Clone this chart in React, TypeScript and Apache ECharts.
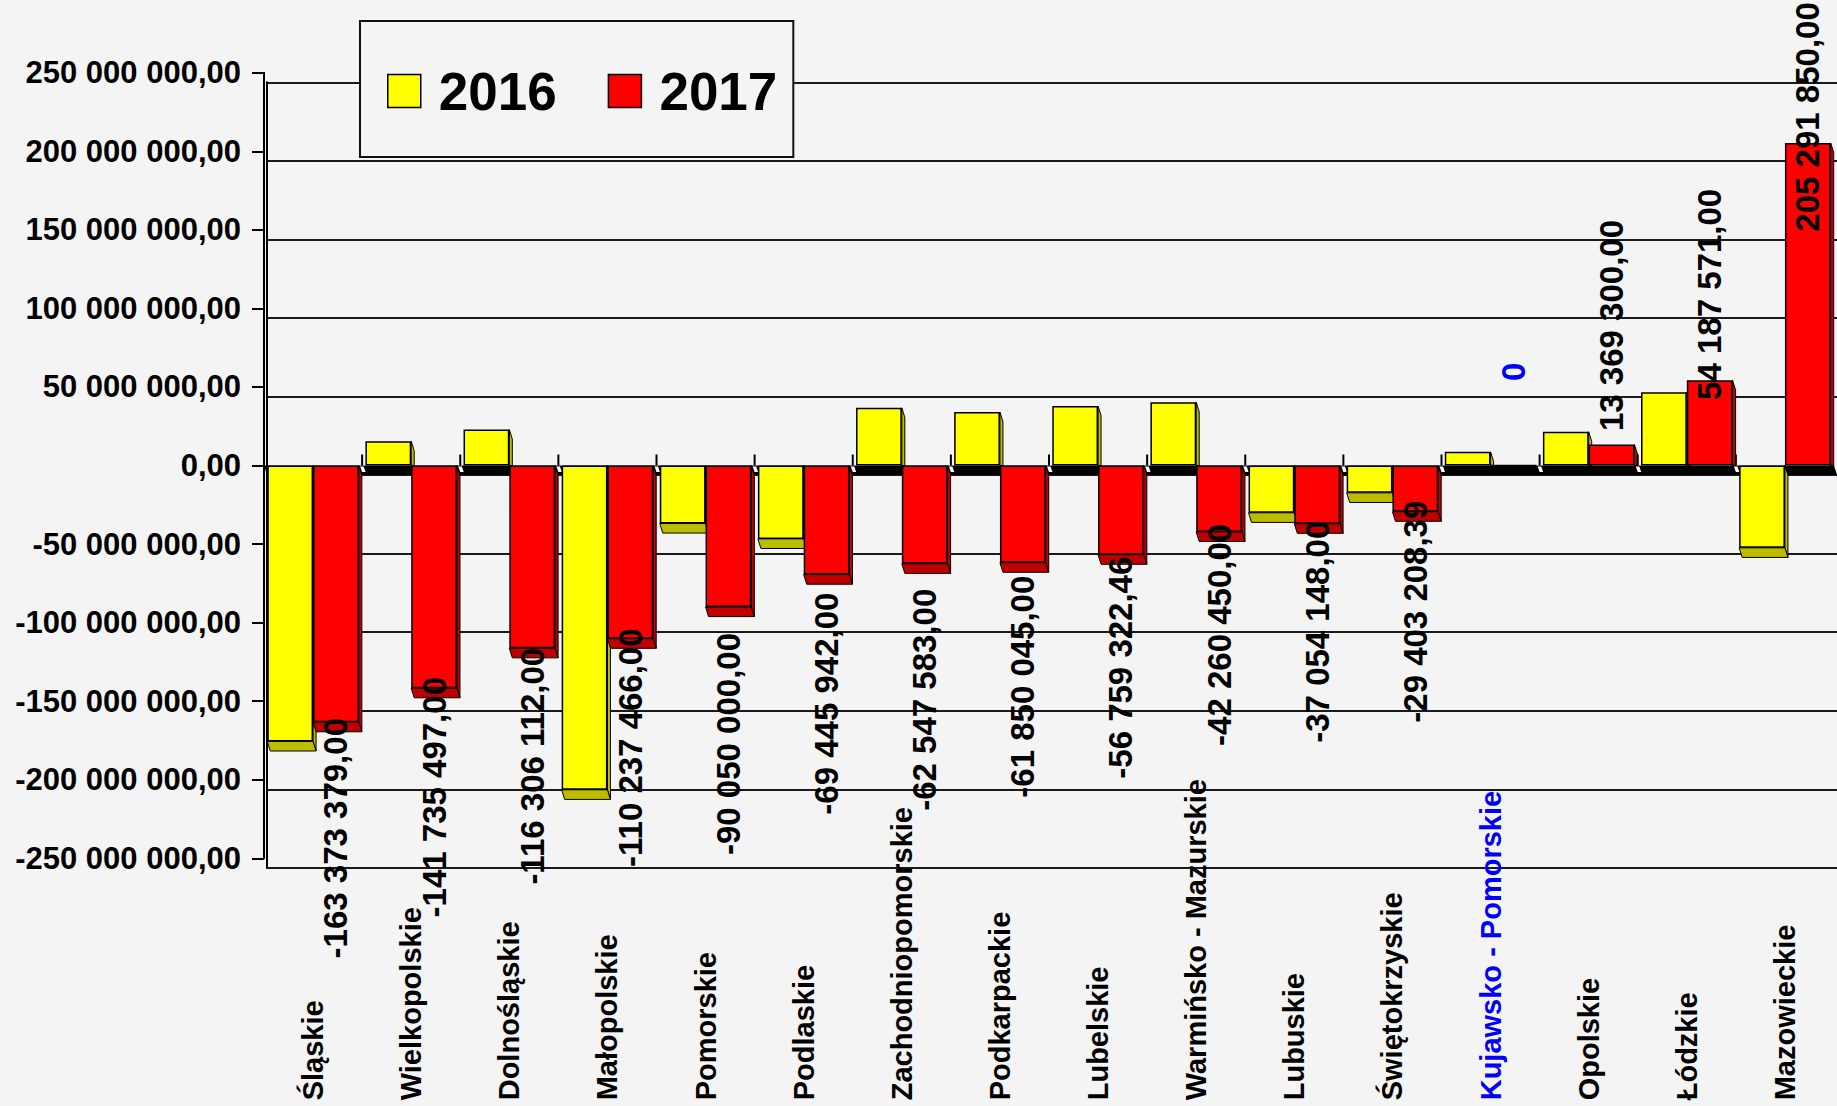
import React, { useEffect, useRef } from 'react';
import * as echarts from 'echarts';

// ---------- data ----------
const categories: string[] = [
  'Śląskie',
  'Wielkopolskie',
  'Dolnośląskie',
  'Małopolskie',
  'Pomorskie',
  'Podlaskie',
  'Zachodniopomorskie',
  'Podkarpackie',
  'Lubelskie',
  'Warmińsko - Mazurskie',
  'Lubuskie',
  'Świętokrzyskie',
  'Kujawsko - Pomorskie',
  'Opolskie',
  'Łódzkie',
  'Mazowieckie',
];

const values2016: number[] = [
  -175600000, 15500000, 22900000, -206400000, -36900000, -46700000, 36700000, 34000000,
  37800000, 40300000, -30100000, -17400000, 8700000, 21500000, 46700000, -52400000,
];

const values2017: number[] = [
  -163373379, -141735497, -116306112, -110237466, -90050000, -69445942, -62547583, -61850045,
  -56759322.46, -42260450, -37054148, -29403208.39, 0, 13369300, 54187571, 205291850,
];

const seriesNames: string[] = ['2016', '2017'];
const yMin = -250000000;
const yMax = 250000000;
const yStep = 50000000;
const highlightedCategory = 'Kujawsko - Pomorskie';

// label placement style (distance of the rotated label centre from the bar end, px)
const labelDistance: number[] = [116, 109, 118, 109, 137, 129, 136, 124, 113, 103, 108, 100, 93, 119, 86, 26];

// ---------- helpers ----------
function fmtNumber(v: number): string {
  const neg = v < 0;
  const fixed = Math.abs(v).toFixed(2);
  const [ip, dp] = fixed.split('.');
  const grouped = ip.replace(/\B(?=(\d{3})+(?!\d))/g, ' ');
  return (neg ? '-' : '') + grouped + ',' + dp;
}
function fmtLabel(v: number): string {
  return v === 0 ? '0' : fmtNumber(v);
}

const FONT = "'Liberation Sans', Arial, Helvetica, sans-serif";
const COLORS = ['#ffff00', '#ff0000'];
const DARK = ['#bdbd00', '#c00000'];
const DX = 3;
const DY = 9.6;
const CAT_GAP = 0.067;

export default function App() {
  const ref = useRef<HTMLDivElement>(null);

  useEffect(() => {
    if (!ref.current) return;
    const chart = echarts.init(ref.current, undefined, { renderer: 'svg' });

    const redData = values2017.map((v, i) => {
      const label: any = {
        position: v >= 0 ? 'top' : 'bottom',
        distance: labelDistance[i],
      };
      if (v === 0) {
        label.color = '#0000ff';
      }
      return { value: v, label };
    });

    const deco = categories.map((_, i) => [i, values2016[i], values2017[i]]);

    const option: any = {
      animation: false,
      backgroundColor: '#f4f4f4',
      textStyle: { fontFamily: FONT },
      legend: {
        data: seriesNames,
        left: 360,
        top: 21,
        orient: 'horizontal',
        icon: 'rect',
        itemWidth: 33,
        itemHeight: 33,
        itemGap: 51,
        padding: [42, 16, 38, 27],
        backgroundColor: '#f4f4f4',
        borderColor: '#111',
        borderWidth: 2,
        itemStyle: { borderColor: '#000', borderWidth: 1.5 },
        textStyle: {
          fontSize: 53,
          fontWeight: 'bold',
          color: '#000',
          fontFamily: FONT,
          lineHeight: 56,
          padding: [0, 0, 0, 13],
        },
      },
      grid: [
        { left: 264, top: 72.7, width: 1570, height: 785.6, containLabel: false, outerBoundsMode: 'none' },
        { left: 267, top: 82.3, width: 1570, height: 785.6, containLabel: false, outerBoundsMode: 'none' },
      ],
      xAxis: [
        {
          gridIndex: 0,
          type: 'category',
          data: categories,
          position: 'bottom',
          axisLine: { show: false, onZero: false },
          axisTick: { show: false },
          axisLabel: {
            show: true,
            interval: 0,
            rotate: 90,
            align: 'left',
            verticalAlign: 'middle',
            margin: 242,
            fontSize: 29,
            fontWeight: 'bold',
            fontFamily: FONT,
            color: (value: string) => (value === highlightedCategory ? '#0000ff' : '#000000'),
          },
          splitLine: { show: false },
        },
        {
          gridIndex: 1,
          type: 'category',
          data: categories,
          show: false,
        },
      ],
      yAxis: [
        {
          gridIndex: 0,
          type: 'value',
          min: yMin,
          max: yMax,
          interval: yStep,
          axisLine: { show: true, lineStyle: { color: '#000', width: 2 } },
          axisTick: { show: true, length: 12, lineStyle: { color: '#000', width: 2 } },
          axisLabel: {
            formatter: (v: number) => fmtNumber(v),
            fontSize: 31,
            fontWeight: 'bold',
            color: '#000',
            fontFamily: FONT,
            margin: 23,
          },
          splitLine: { show: false },
        },
        {
          gridIndex: 1,
          type: 'value',
          min: yMin,
          max: yMax,
          interval: yStep,
          axisLine: { show: true, lineStyle: { color: '#000', width: 2 } },
          axisTick: { show: false },
          axisLabel: { show: false },
          splitLine: { show: true, lineStyle: { color: '#1a1a1a', width: 2 } },
        },
      ],
      series: [
        {
          type: 'custom',
          name: 'depth',
          xAxisIndex: 0,
          yAxisIndex: 0,
          z: 1,
          silent: true,
          data: deco,
          encode: { x: 0, y: 1 },
          renderItem: (params: any, api: any) => {
            const i = api.value(0);
            const cs = params.coordSys;
            const catW = api.size([1, 0])[0];
            const barW = (catW * (1 - CAT_GAP)) / 2;
            const base = api.coord([i, 0]);
            const cx = base[0];
            const y0 = base[1];
            const children: any[] = [];
            if (params.dataIndex === 0) {
              children.push({
                type: 'polygon',
                shape: {
                  points: [
                    [cs.x, y0],
                    [cs.x + cs.width, y0],
                    [cs.x + cs.width + DX, y0 + DY],
                    [cs.x + DX, y0 + DY],
                  ],
                },
                style: { fill: '#000' },
              });
            }
            const xb = cx - catW / 2;
            if (i > 0) {
              children.push({
                type: 'polygon',
                shape: {
                  points: [
                    [xb - 2, y0 + 1],
                    [xb + 1.5, y0 + 1],
                    [xb + 3.5, y0 + 6.5],
                    [xb, y0 + 6.5],
                  ],
                },
                style: { fill: '#ffffff' },
              });
              children.push({
                type: 'line',
                shape: { x1: xb, y1: y0, x2: xb, y2: y0 - 11 },
                style: { stroke: '#000', lineWidth: 2 },
              });
            }
            [api.value(1), api.value(2)].forEach((v: number, s: number) => {
              const x0 = s === 0 ? cx - barW : cx;
              const x1 = x0 + barW;
              const yv = api.coord([i, v])[1];
              const style = { fill: DARK[s], stroke: '#000', lineWidth: 1 };
              if (v < 0) {
                children.push({
                  type: 'polygon',
                  shape: { points: [[x1, y0], [x1 + DX, y0 + DY], [x1 + DX, yv + DY], [x1, yv]] },
                  style,
                });
                children.push({
                  type: 'polygon',
                  shape: { points: [[x0, yv], [x1, yv], [x1 + DX, yv + DY], [x0 + DX, yv + DY]] },
                  style,
                });
              } else if (v > 0) {
                children.push({
                  type: 'polygon',
                  shape: { points: [[x1, yv], [x1 + DX, yv + DY], [x1 + DX, y0], [x1, y0]] },
                  style,
                });
              }
            });
            return { type: 'group', children };
          },
        },
        {
          type: 'bar',
          name: seriesNames[0],
          xAxisIndex: 0,
          yAxisIndex: 0,
          z: 3,
          data: values2016,
          barGap: '0%',
          barCategoryGap: (CAT_GAP * 100).toFixed(1) + '%',
          itemStyle: { color: COLORS[0], borderColor: '#000', borderWidth: 1.5 },
          label: { show: false },
        },
        {
          type: 'bar',
          name: seriesNames[1],
          xAxisIndex: 0,
          yAxisIndex: 0,
          z: 3,
          data: redData,
          barGap: '0%',
          barCategoryGap: (CAT_GAP * 100).toFixed(1) + '%',
          itemStyle: { color: COLORS[1], borderColor: '#000', borderWidth: 1.5 },
          label: {
            show: true,
            rotate: 90,
            align: 'center',
            verticalAlign: 'middle',
            fontSize: 33,
            fontWeight: 'bold',
            fontFamily: FONT,
            color: '#000',
            formatter: (p: any) => fmtLabel(p.value),
          },
        },
      ],
    };

    chart.setOption(option);
    return () => {
      chart.dispose();
    };
  }, []);

  return (
    <div
      ref={ref}
      style={{ position: 'absolute', left: 0, top: 0, width: 1837, height: 1106 }}
    />
  );
}
